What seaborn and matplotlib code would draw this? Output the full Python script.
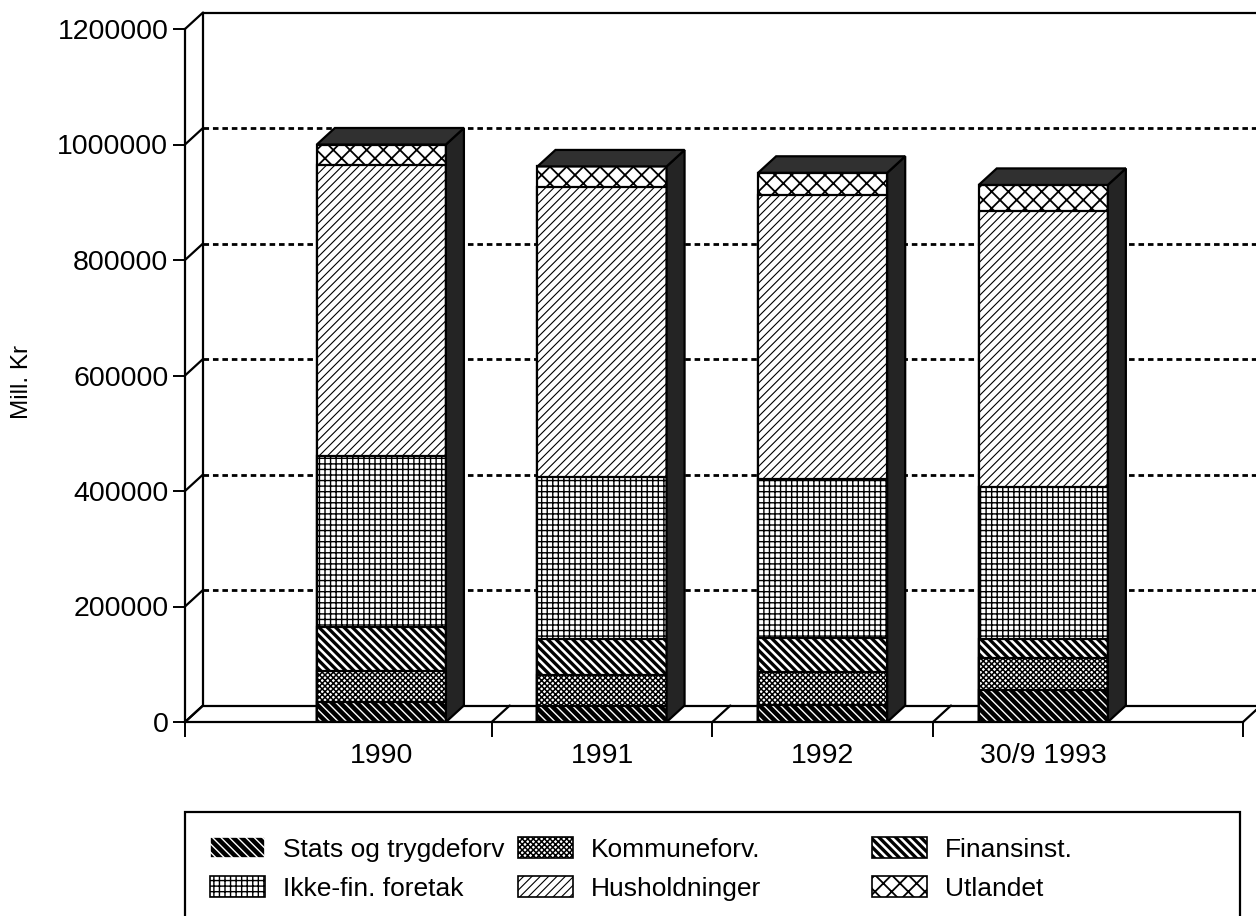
import numpy as np
import pandas as pd
import matplotlib
matplotlib.use("Agg")
import matplotlib.pyplot as plt
import seaborn as sns
from matplotlib.patches import Polygon, Rectangle, Patch

# ---------------- data ----------------
categories = ["1990", "1991", "1992", "30/9 1993"]
stats = [34000, 27000, 30000, 56000]
kommune = [55000, 55000, 57000, 55000]
finans = [76000, 62000, 59000, 33000]
ikkefin = [296000, 281000, 275000, 263000]
hushold = [504000, 502000, 492000, 478000]
utland = [35000, 35000, 38000, 45000]
series_names = ["Stats og trygdeforv", "Kommuneforv.", "Finansinst.",
                "Ikke-fin. foretak", "Husholdninger", "Utlandet"]
y_ticks = [0, 200000, 400000, 600000, 800000, 1000000, 1200000]
y_label = "Mill. Kr"

# ---------------- style ----------------
sns.set_style("white")
plt.rcParams['font.family'] = ['Liberation Sans', 'DejaVu Sans']
plt.rcParams['hatch.linewidth'] = 1.0
plt.rcParams['text.color'] = 'black'
plt.rcParams['xtick.color'] = 'black'
plt.rcParams['ytick.color'] = 'black'
plt.rcParams['axes.labelcolor'] = 'black'

W, H = 1256, 916
fig = plt.figure(figsize=(W / 100, H / 100), dpi=100)
ax_left, ax_right, ax_bot, ax_top = 185, 1243, 722, 29
ax = fig.add_axes([ax_left / W, (H - ax_bot) / H, (ax_right - ax_left) / W, (ax_bot - ax_top) / H])

x_lo, x_hi = -0.89, 3.905
y_hi = 1200000
px_x = (ax_right - ax_left) / (x_hi - x_lo)
px_y = (ax_bot - ax_top) / y_hi
dx = 18 / px_x
dy = 16.5 / px_y
bar_w = 0.585
LW = 1.6

styles = {
    "Stats og trygdeforv": dict(face="black", hatch="\\\\\\\\", hcol="white", hlw=1.0),
    "Kommuneforv.": dict(face="white", hatch="xxxxxx", hcol="black", hlw=1.1),
    "Finansinst.": dict(face="white", hatch="\\\\\\\\", hcol="black", hlw=2.4),
    "Ikke-fin. foretak": dict(face="white", hatch="+++", hcol="black", hlw=1.0),
    "Husholdninger": dict(face="white", hatch="////", hcol="black", hlw=0.8),
    "Utlandet": dict(face="white", hatch="xx", hcol="black", hlw=1.3),
}

series = [stats, kommune, finans, ikkefin, hushold, utland]
cum = np.cumsum(np.array(series, dtype=float), axis=0)
df = pd.DataFrame({"Kategori": categories})
for name, row in zip(series_names, cum):
    df[name] = row

# ---------------- stacked bars (top layer first, lower layers overlaid) ----------------
layer_patches = {}
for k in range(len(series_names) - 1, -1, -1):
    name = series_names[k]
    st = styles[name]
    n_before = len(ax.patches)
    sns.barplot(data=df, x="Kategori", y=name, order=categories, color=st['face'],
                saturation=1, edgecolor=st['hcol'], linewidth=0, hatch=st['hatch'],
                width=bar_w, errorbar=None, ax=ax)
    new = list(ax.patches[n_before:])
    for p in new:
        p.set_facecolor(st['face'])
        p.set_edgecolor(st['hcol'])
        p.set_linewidth(0)
        p.set_zorder(3)
        if hasattr(p, 'set_hatch_linewidth'):
            p.set_hatch_linewidth(st['hlw'])
        ax.add_patch(Rectangle((p.get_x(), p.get_y()), p.get_width(), p.get_height(),
                               fill=False, edgecolor='black', lw=LW, zorder=3))
    layer_patches[name] = new

# ---------------- 3D side and top faces ----------------
for p in layer_patches[series_names[-1]]:
    x0 = p.get_x()
    x1 = x0 + p.get_width()
    top = p.get_height()
    side = Polygon([(x1, 0), (x1 + dx, dy), (x1 + dx, top + dy), (x1, top)],
                   closed=True, facecolor='#242424', edgecolor='black', lw=LW, zorder=4)
    topf = Polygon([(x0, top), (x0 + dx, top + dy), (x1 + dx, top + dy), (x1, top)],
                   closed=True, facecolor='#303030', edgecolor='black', lw=LW, zorder=4)
    ax.add_patch(side)
    ax.add_patch(topf)

# ---------------- back wall, floor, grid ----------------
far = x_hi + 0.3
ax.plot([x_lo + dx, x_lo + dx], [dy, y_hi + dy], color='black', lw=LW, clip_on=False, zorder=1)
ax.plot([x_lo + dx, far], [y_hi + dy] * 2, color='black', lw=LW, clip_on=False, zorder=1)
ax.plot([x_lo + dx, far], [dy, dy], color='black', lw=LW, clip_on=False, zorder=1)
for v in y_ticks:
    ax.plot([x_lo, x_lo + dx], [v, v + dy], color='black', lw=LW, clip_on=False, zorder=1)
for v in y_ticks[1:-1]:
    ax.plot([x_lo + dx, far], [v + dy] * 2, color='black', lw=2.0,
            linestyle=(0, (2.0, 1.4)), clip_on=False, zorder=1)
x_sep = [x_lo, 0.5, 1.5, 2.5, x_hi]
for xs in x_sep:
    ax.plot([xs, xs + dx], [0, dy], color='black', lw=LW, clip_on=False, zorder=1)

# ---------------- axes ----------------
ax.set_xlim(x_lo, x_hi)
ax.set_ylim(0, y_hi)
for s in ['top', 'right']:
    ax.spines[s].set_visible(False)
for s in ['left', 'bottom']:
    ax.spines[s].set_linewidth(LW)
    ax.spines[s].set_color('black')
    ax.spines[s].set_zorder(5)
ax.set_yticks(y_ticks, labels=[str(v) for v in y_ticks])
ax.set_xticks(x_sep, labels=[''] * len(x_sep))
ax.set_xticks(range(len(categories)), labels=categories, minor=True)
ax.tick_params(axis='y', direction='out', length=9, width=1.4, pad=3, labelsize=20.5,
               colors='black', labelcolor='black', left=True)
ax.tick_params(axis='x', which='major', direction='out', length=11, width=1.4, bottom=True,
               colors='black')
ax.tick_params(axis='x', which='minor', length=0, pad=15, labelsize=20.5, labelcolor='black')
ax.set_xlabel('')
ax.set_ylabel('')
ax.grid(False)
ax.patch.set_alpha(0)

fig.text(22 / W, 1 - 382 / H, y_label, rotation=90, ha='center', va='center', fontsize=17.5,
         color='black')

# ---------------- legend ----------------
def handle(name):
    st = styles[name]
    return Patch(facecolor=st['face'], edgecolor=st['hcol'] if st['face'] == 'black' else 'black',
                 hatch=st['hatch'], lw=1.2)

cols = [(210, [series_names[0], series_names[3]]),
        (518, [series_names[1], series_names[4]]),
        (872, [series_names[2], series_names[5]])]
for xpx, names in cols:
    leg = fig.legend(handles=[handle(n) for n in names], labels=names, loc='upper left',
                     bbox_to_anchor=(xpx / W, 1 - 837 / H), frameon=False, borderpad=0,
                     borderaxespad=0, handlelength=2.1, handleheight=0.85, handletextpad=0.65,
                     labelspacing=0.55, fontsize=19, labelcolor='black')
    for h, n in zip(leg.legend_handles, names):
        if hasattr(h, 'set_hatch_linewidth'):
            h.set_hatch_linewidth(styles[n]['hlw'])
fig.add_artist(Rectangle((185 / W, -0.05), (1240 - 185) / W, 0.05 + (H - 812) / H,
                         transform=fig.transFigure, fill=False, edgecolor='black', lw=LW))

fig.savefig("out.png", dpi=100)
